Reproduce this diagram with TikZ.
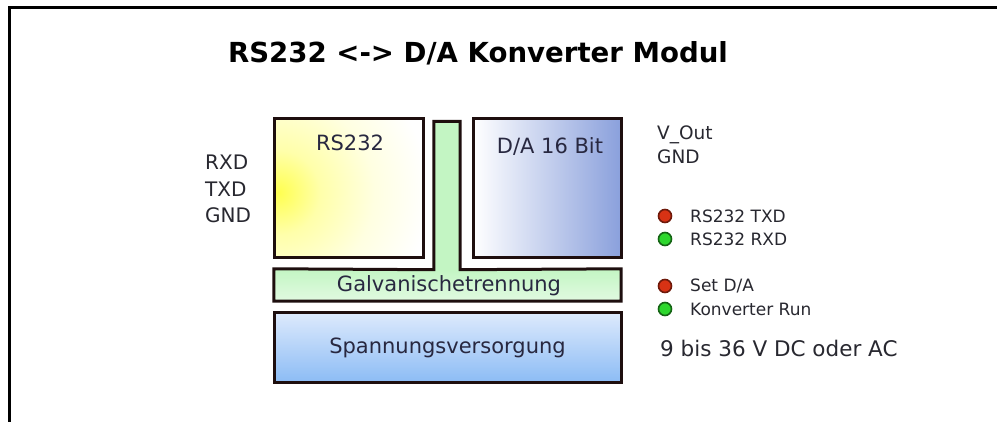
\documentclass[tikz,border=0pt]{standalone}
\usepackage{fontspec}
\setmainfont{DejaVu Sans}
\definecolor{boxline}{RGB}{30,14,14}
\definecolor{textc}{RGB}{40,40,48}
\definecolor{boxtext}{RGB}{40,40,64}
\definecolor{yel}{RGB}{255,255,80}
\definecolor{yelmid}{RGB}{255,255,170}
\definecolor{yellt}{RGB}{255,255,225}
\definecolor{dablue}{RGB}{138,160,220}
\definecolor{damid}{RGB}{178,178,190}
\definecolor{ltgreen}{RGB}{195,245,195}
\definecolor{pwtop}{RGB}{222,234,252}
\definecolor{pwbot}{RGB}{140,188,245}
\definecolor{ledred}{RGB}{215,50,20}
\definecolor{ledredd}{RGB}{110,25,10}
\definecolor{ledgreen}{RGB}{45,215,45}
\definecolor{ledgreend}{RGB}{20,100,20}
\pgfdeclareradialshading{rsglow}{\pgfpoint{0bp}{0bp}}{%
  color(0bp)=(yel); color(7bp)=(yelmid); color(16bp)=(yellt); color(25bp)=(white); color(50bp)=(white)}
\tikzset{
  boxstyle/.style={draw=boxline, line width=3pt, inner sep=0pt},
  fillonly/.style={inner sep=0pt, draw=none},
  boxlabel/.style={text=boxtext, inner sep=0pt, font=\fontsize{21}{25}\selectfont},
  sidelabel/.style={text=textc, inner sep=0pt, anchor=west, font=\fontsize{20}{24}\selectfont},
  ledlabel/.style={text=textc, inner sep=0pt, anchor=west, font=\fontsize{17}{20}\selectfont},
  led/.style={circle, inner sep=0pt, minimum size=13pt, line width=1.6pt},
}
\begin{document}
\begin{tikzpicture}[x=1pt,y=-1pt]
\useasboundingbox (0,0) rectangle (997,421);
\fill[white] (0,0) rectangle (997,421);
% frame
\coordinate (fbl) at (9.5,421);
\coordinate (ftl) at (9.5,7.5);
\coordinate (ftr) at (997,7.5);
\draw[line width=3pt, line cap=rect] (fbl) -- (ftl) -- (ftr);

% title
\node[text=black, inner sep=0pt, font=\bfseries\fontsize{27.6}{32}\selectfont] (title) at (478,53) {RS232 <-> D/A Konverter Modul};

% RS232 box
\node[boxstyle, minimum width=149pt, minimum height=139pt, fill=white,
  path picture={\shade[shading=rsglow]
    ([xshift=4pt,yshift=-5pt]path picture bounding box.west) circle (150pt);}]
  (rs) at (348.5,187.5) {};
\node[boxlabel] (rslbl) at (350,143) {RS232};

% D/A box
\node[boxstyle, minimum width=148pt, minimum height=139pt,
  left color=white, middle color=damid, right color=dablue]
  (da) at (547,187.5) {};
\node[boxlabel] (dalbl) at (550,146) {D/A 16 Bit};

% isolation strip + bar (T shape)
\node[fillonly, minimum width=26pt, minimum height=148pt,
  left color=ltgreen, middle color=white, right color=ltgreen]
  (strip) at (447,195.5) {};
\node[fillonly, minimum width=347pt, minimum height=32pt,
  top color=ltgreen, bottom color=ltgreen!50!white]
  (bar) at (447.5,285) {};
\draw[draw=boxline, line width=3pt, line join=miter]
  (bar.north west) -- (strip.south west) -- (strip.north west) -- (strip.north east)
  -- (strip.south east) -- (bar.north east) -- (bar.south east) -- (bar.south west) -- cycle;
\node[boxlabel] (barlbl) at (449,286) {Galvanischetrennung};

% power supply
\node[boxstyle, minimum width=347pt, minimum height=70pt,
  top color=pwtop, bottom color=pwbot]
  (pw) at (447.5,347) {};
\node[boxlabel] (pwlbl) at (447.5,348) {Spannungsversorgung};

% left labels
\node[sidelabel] (rxd) at (205,162) {RXD};
\node[sidelabel] (txd) at (205,189) {TXD};
\node[sidelabel] (gndl) at (205,215) {GND};

% right labels
\node[ledlabel, font=\fontsize{18.5}{22}\selectfont] (vout) at (657,135) {V\_Out};
\node[ledlabel, font=\fontsize{18.5}{22}\selectfont] (gndr) at (657,157) {GND};

% LEDs
\node[led, draw=ledredd, fill=ledred] (led1) at (665,216) {};
\node[led, draw=ledgreend, fill=ledgreen] (led2) at (665,239) {};
\node[led, draw=ledredd, fill=ledred] (led3) at (665,286) {};
\node[led, draw=ledgreend, fill=ledgreen] (led4) at (665,309) {};
\node[ledlabel] (l1) at (690,216) {RS232 TXD};
\node[ledlabel] (l2) at (690,239) {RS232 RXD};
\node[ledlabel] (l3) at (690,286) {Set D/A};
\node[ledlabel] (l4) at (690,309) {Konverter Run};

\node[sidelabel, font=\fontsize{21.5}{25}\selectfont] (volt) at (660,348) {9 bis 36 V DC oder AC};
\end{tikzpicture}
\end{document}
